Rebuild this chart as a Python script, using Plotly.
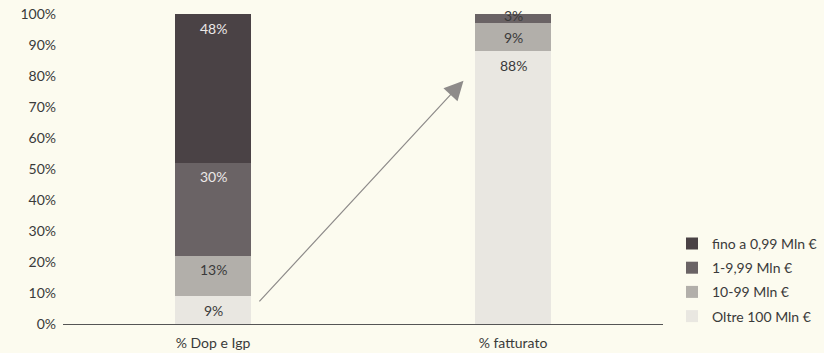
import plotly.graph_objects as go

# Share of products (Dop e Igp) and of turnover by company size band
categories = ["% Dop e Igp", "% fatturato"]
band_names = ["Oltre 100 Mln €", "10-99 Mln €", "1-9,99 Mln €", "fino a 0,99 Mln €"]
oltre_100 = [9, 88]
da_10_a_99 = [13, 9]
da_1_a_9 = [30, 3]
fino_a_1 = [48, 0]
tick_values = [0, 10, 20, 30, 40, 50, 60, 70, 80, 90, 100]
tick_labels = ["0%", "10%", "20%", "30%", "40%", "50%", "60%", "70%", "80%", "90%", "100%"]

series = [oltre_100, da_10_a_99, da_1_a_9, fino_a_1]
fills = ["#e9e7e1", "#b2afaa", "#6a6365", "#4a4245"]
# label colour per band and per bar (light text on the dark, tall segments)
label_colors = [
    ["#3a3a3a", "#3a3a3a"],
    ["#3a3a3a", "#3a3a3a"],
    ["#ece8e8", "#3a3a3a"],
    ["#ece8e8", "#ece8e8"],
]

FONT = "Lato, 'Open Sans', sans-serif"

fig = go.Figure()
n = len(band_names)
for i, (name, vals, fill) in enumerate(zip(band_names, series, fills)):
    fig.add_trace(go.Bar(
        x=categories,
        y=vals,
        name=name,
        legendgroup=f"g{i}",
        legendrank=n - i,  # top band listed first
        marker=dict(color=fill, line=dict(width=0)),
        width=0.255,
        hoverinfo="skip",
    ))

# Value labels near the top of each segment; very thin segments get
# their label centred on the segment's upper edge
tops = [0, 0]
for vals, cols in zip(series, label_colors):
    for j, cat in enumerate(categories):
        v = vals[j]
        tops[j] += v
        if v <= 0:
            continue
        shift = -14 if v >= 5 else -1
        fig.add_annotation(
            x=cat, y=tops[j], xref="x", yref="y",
            text=f"{v}%", showarrow=False, yshift=shift,
            font=dict(family=FONT, size=14, color=cols[j]),
        )

# Arrow from the first bar towards the second
fig.add_annotation(
    x=0.835, y=78.5, xref="x", yref="y",
    ax=0.15, ay=6.8, axref="x", ayref="y",
    text="", showarrow=True,
    arrowhead=2, arrowsize=3.2, arrowwidth=1.2, arrowcolor="#8e8b8a",
)

fig.update_layout(
    barmode="stack",
    width=824, height=353,
    margin=dict(l=63, r=161, t=14, b=29, autoexpand=False),
    paper_bgcolor="#fcfbef",
    plot_bgcolor="#fcfbef",
    font=dict(family=FONT, size=14, color="#3a3a3a"),
    bargap=0,
    showlegend=True,
    legend=dict(
        x=1.015, y=0.31, xanchor="left", yanchor="top",
        traceorder="grouped",
        font=dict(family=FONT, size=14, color="#3a3a3a"),
        bgcolor="rgba(0,0,0,0)",
        itemwidth=30,
        tracegroupgap=3,
    ),
    xaxis=dict(
        type="category",
        range=[-0.5, 1.5],
        automargin=False,
        showline=True, linecolor="#555555", linewidth=1,
        showgrid=False, zeroline=False,
        ticks="", ticklabelstandoff=6,
        tickfont=dict(family=FONT, size=14, color="#3a3a3a"),
    ),
    yaxis=dict(
        range=[0, 100],
        automargin=False,
        tickvals=tick_values, ticktext=tick_labels,
        showgrid=False, zeroline=False, showline=False,
        ticks="", ticklabelstandoff=6,
        tickfont=dict(family=FONT, size=14, color="#3a3a3a"),
    ),
)

fig.write_html("out.html")
